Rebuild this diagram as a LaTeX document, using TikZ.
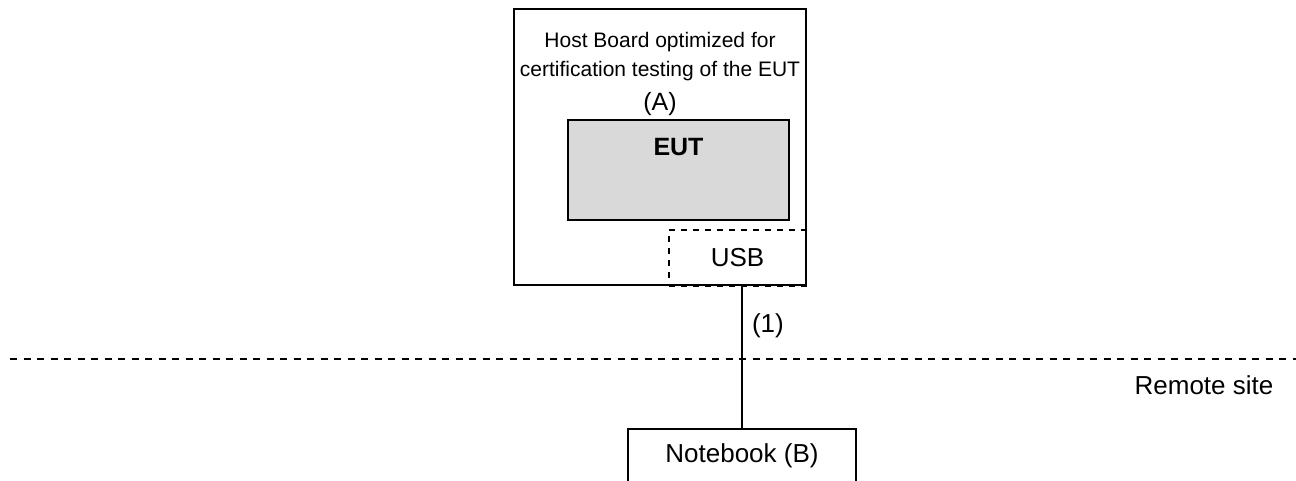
\documentclass[tikz,border=0pt]{standalone}
\usepackage{fontspec}
\setmainfont{Liberation Sans}
\usetikzlibrary{positioning}
\definecolor{eutgray}{RGB}{217,217,217}

\begin{document}
\begin{tikzpicture}[x=1pt,y=1pt,line width=1.6pt,node distance=4pt,font=\fontsize{26}{30}\selectfont]
\tikzstyle{every node}=[inner sep=0pt,outer sep=0pt]
\tikzstyle{box}=[draw=black,rectangle]
\tikzstyle{usbbox}=[draw=black,rectangle,dash pattern=on 6pt off 6pt]
\tikzstyle{small}=[font=\fontsize{21}{29}\selectfont]
\useasboundingbox (0,0) rectangle (1296,480);
% host board with the EUT and its USB port
\node[usbbox,minimum width=137pt,minimum height=56pt] (usb) at (737.5,222) {USB};
\node[box,minimum width=292pt,minimum height=276pt] (host) at (660,333) {};
\node[small,align=center,anchor=north] (hosttxt) at (660,448) {Host Board optimized for\\certification testing of the EUT};
\node[box,fill=eutgray,minimum width=221pt,minimum height=100pt] (eut) at (678.5,310) {};
\node[font=\fontsize{25}{30}\selectfont] (a) [above=of eut.north -| host.center] {(A)};
\node[anchor=base,font=\fontsize{25}{30}\selectfont\bfseries] (euttxt) at ([yshift=-36pt]eut.north) {EUT};
% remote site
\node[box,minimum width=228pt,minimum height=54pt] (nb) at (742,24) {Notebook (B)};
\node[anchor=base] (remote) at (1204,86) {Remote site};
\draw[dash pattern=on 7pt off 6.5pt] (10,121) -- (1296,121);
\draw (nb.north |- usb.south) -- node[pos=0.28,anchor=west,xshift=10pt] (one) {(1)} (nb.north);
\end{tikzpicture}
\end{document}
